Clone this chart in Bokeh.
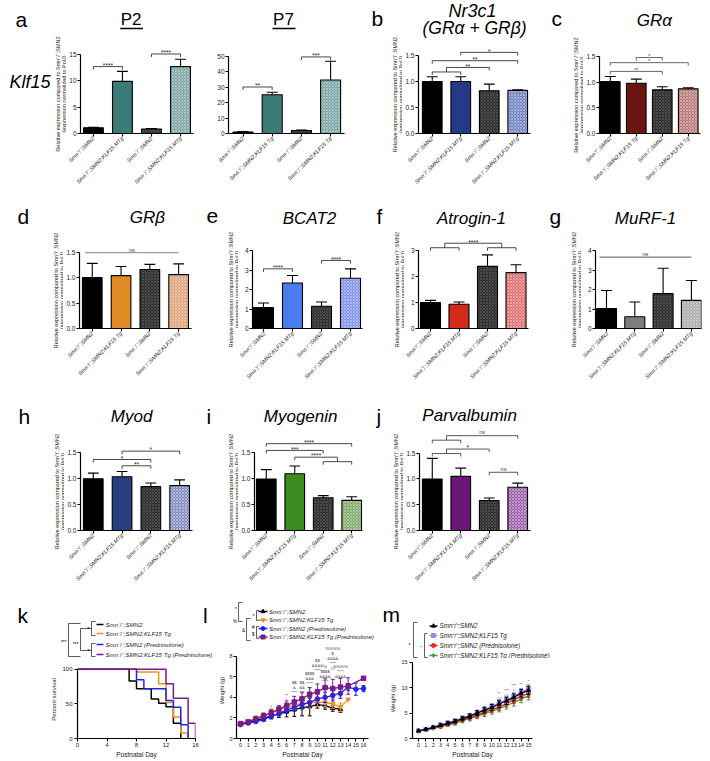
import math
from bokeh.plotting import figure
from bokeh.models import (Range1d, LinearAxis, FixedTicker, PrintfTickFormatter,
                          ColumnDataSource, Spacer)
from bokeh.layouts import row, column
from bokeh.embed import file_html
from bokeh.resources import INLINE
from bokeh.core.properties import value

FONT = "Liberation Sans"

# ---------------- data ----------------
bar_positions = [1, 2, 3, 4]
labels_mtg = ["Smn⁺/⁻;SMN2", "Smn⁺/⁻;SMN2;KLF15 MTg", "Smn⁻/⁻;SMN2", "Smn⁻/⁻;SMN2;KLF15 MTg"]
labels_tg = ["Smn⁺/⁻;SMN2", "Smn⁺/⁻;SMN2;KLF15 Tg", "Smn⁻/⁻;SMN2", "Smn⁻/⁻;SMN2;KLF15 Tg"]
ylabel_lines = ["Relative expression compared to Smn⁺/⁻;SMN2", "(expression normalized to PolJ)"]

klf15_p2_mean = [1.1, 9.9, 0.85, 12.7]
klf15_p2_sem = [0.1, 1.9, 0.1, 1.4]
klf15_p7_mean = [1.0, 25.0, 1.9, 34.5]
klf15_p7_sem = [0.3, 1.6, 0.3, 12.1]
nr3c1_mean = [1.0, 1.0, 0.82, 0.83]
nr3c1_sem = [0.09, 0.09, 0.13, 0.01]
gra_mean = [1.01, 0.98, 0.85, 0.87]
gra_sem = [0.10, 0.08, 0.06, 0.02]
grb_mean = [1.0, 1.04, 1.16, 1.06]
grb_sem = [0.28, 0.18, 0.10, 0.21]
bcat2_mean = [1.07, 2.33, 1.14, 2.58]
bcat2_sem = [0.24, 0.39, 0.22, 0.48]
atrogin_mean = [1.0, 0.93, 2.39, 2.15]
atrogin_sem = [0.08, 0.09, 0.44, 0.30]
murf_mean = [1.02, 0.60, 1.79, 1.44]
murf_sem = [0.93, 0.76, 1.30, 1.02]
myod_mean = [0.99, 1.03, 0.84, 0.86]
myod_sem = [0.11, 0.10, 0.07, 0.11]
myog_mean = [0.99, 1.09, 0.63, 0.58]
myog_sem = [0.18, 0.15, 0.04, 0.07]
parv_mean = [1.0, 1.05, 0.58, 0.84]
parv_sem = [0.40, 0.16, 0.05, 0.08]

# significance comparisons: (left bars, right bars, level, label)
klf15_p2_sig = [([1], [2], 12.7, "****"), ([3], [4], 15.1, "****")]
klf15_p7_sig = [([1], [2], 30.0, "**"), ([3], [4], 49.4, "***")]
nr3c1_sig = [([1, 2], [3], 1.27, "**"), ([1], [4], 1.40, "**"), ([2], [4], 1.56, "*")]
gra_sig = [([1], [3], 1.21, "**"), ([1], [4], 1.38, "*"), ([2], [3], 1.48, "*")]
grb_sig = [([1], [4], 1.49, "ns")]
bcat2_sig = [([1], [2], 3.06, "****"), ([3], [4], 3.49, "****")]
atrogin_sig = [([1, 2], [3, 4], 3.28, "****")]
murf_sig = [([1], [4], 3.66, "ns")]
myod_sig = [([2], [3], 1.24, "**"), ([1], [3], 1.36, "*"), ([2], [4], 1.52, "*")]
myog_sig = [([2], [3, 4], 1.41, "****"), ([1], [3], 1.54, "***"), ([1], [4], 1.67, "****")]
parv_sig = [([3], [4], 1.13, "ns"), ([1, 2], [3], 1.58, "*"), ([1, 2], [4], 1.84, "ns")]

klf15_colors = ["#000000", "#3c7c78", "#2a2a2a", "#76a3a0"]
nr3c1_colors = ["#000000", "#243a86", "#2a2a2a", "#6d7fbf"]
gra_colors = ["#000000", "#6b1510", "#2a2a2a", "#b87474"]
grb_colors = ["#000000", "#df8a22", "#2a2a2a", "#dea074"]
bcat2_colors = ["#000000", "#4a7cf0", "#2a2a2a", "#7d8ff0"]
atrogin_colors = ["#000000", "#d42a1c", "#2a2a2a", "#e06a6a"]
murf_colors = ["#000000", "#7d7d7d", "#2a2a2a", "#a9a9a9"]
myod_colors = ["#000000", "#2a3e82", "#2a2a2a", "#7e8bc2"]
myog_colors = ["#000000", "#3b8b1f", "#2a2a2a", "#7ba862"]
parv_colors = ["#000000", "#6b1579", "#2a2a2a", "#9a5aab"]

# survival (k)
surv_days_black = [0, 7, 8, 10, 11, 12, 13, 14]
surv_pct_black = [100, 83, 72, 57, 51, 46, 22, 0]
surv_days_orange = [0, 8, 11, 12, 13, 14, 15]
surv_pct_orange = [100, 96, 79, 52, 31, 8, 0]
surv_days_blue = [0, 8, 9, 12, 13, 14, 15]
surv_pct_blue = [100, 85, 72, 55, 45, 20, 0]
surv_days_purple = [0, 12, 13, 15, 16]
surv_pct_purple = [100, 79, 58, 22, 0]
ko_legend = ["Smn⁻/⁻;SMN2", "Smn⁻/⁻;SMN2;KLF15 Tg", "Smn⁻/⁻;SMN2 (Prednisolone)",
             "Smn⁻/⁻;SMN2;KLF15 Tg (Prednisolone)"]
het_legend = ["Smn⁺/⁻;SMN2", "Smn⁺/⁻;SMN2;KLF15 Tg", "Smn⁺/⁻;SMN2 (Prednisolone)",
              "Smn⁺/⁻;SMN2;KLF15 Tg (Prednisolone)"]
ko_colors = ["#000000", "#f0901e", "#2222f0", "#7a1a8c"]
het_colors = ["#000000", "#8c8cff", "#e02a20", "#3f9a30"]

# weight, Smn-/- (l)
wl_days_black = list(range(0, 14))
wl_black = [1.40, 1.55, 1.75, 1.95, 2.20, 2.40, 2.60, 2.80, 3.00, 3.10, 3.30, 3.20, 2.95, 2.85]
wl_black_err = [0.10, 0.15, 0.20, 0.25, 0.30, 0.35, 0.50, 0.65, 0.80, 0.90, 0.35, 0.35, 0.30, 0.30]
wl_days_orange = list(range(0, 15))
wl_orange = [1.50, 1.70, 1.95, 2.20, 2.50, 2.75, 3.05, 3.25, 3.40, 3.50, 3.55, 3.50, 3.35, 3.05, 3.80]
wl_orange_err = [0.10, 0.15, 0.25, 0.30, 0.35, 0.40, 0.40, 0.45, 0.50, 0.55, 0.45, 0.40, 0.45, 0.40, 0.05]
wl_days_blue = list(range(0, 17))
wl_blue = [1.35, 1.50, 1.65, 1.85, 2.15, 2.45, 2.75, 3.05, 3.30, 3.50, 3.85, 4.00, 4.20, 4.40, 5.00, 4.80, 4.85]
wl_blue_err = [0.08, 0.10, 0.12, 0.15, 0.20, 0.25, 0.30, 0.35, 0.40, 0.40, 0.45, 0.50, 0.55, 0.50, 0.35, 0.60, 0.30]
wl_days_purple = list(range(0, 15)) + [16]
wl_purple = [1.45, 1.60, 1.90, 2.20, 2.50, 2.85, 3.20, 3.55, 3.85, 4.30, 4.55, 4.95, 4.85, 5.00, 5.10, 5.85]
wl_purple_err = [0.10, 0.15, 0.20, 0.25, 0.30, 0.35, 0.45, 0.55, 0.60, 0.65, 0.75, 0.85, 0.90, 0.85, 0.80, 0.10]
wl_sig_days = [4, 6, 7, 8, 9, 10, 11, 12, 13]
wl_sig_top = [3.4, 4.45, 5.7, 5.7, 6.6, 7.8, 7.25, 9.0, 7.25]
wl_sig_text = ["#", "**\n*", "$$\n&\n****\n*", "$$\n&&\n***\n*", "$$$$\n&&&\n****\n#",
               "$$\n&&&&\n****", "%\n$$$$\n&&&&\n****", "%%%%\n$\n&&&&\n****\n##", "%%%%\n****\n&&&&"]

# weight, Smn+/- (m)
wm_days = list(range(0, 16))
wm_black = [1.5, 1.8, 2.2, 2.6, 3.0, 3.4, 3.9, 4.4, 5.0, 5.6, 6.1, 6.8, 7.4, 8.1, 8.9, 9.5]
wm_blue = [1.5, 1.8, 2.2, 2.7, 3.1, 3.5, 4.0, 4.5, 5.1, 5.7, 6.3, 7.0, 7.6, 8.3, 9.1, 9.8]
wm_red = [1.5, 1.7, 2.1, 2.4, 2.8, 3.2, 3.7, 4.1, 4.6, 5.2, 5.7, 6.2, 6.9, 7.6, 8.3, 8.9]
wm_green = [1.5, 1.7, 2.0, 2.3, 2.7, 3.0, 3.5, 3.9, 4.4, 4.9, 5.4, 5.9, 6.5, 7.1, 7.8, 8.4]
wm_err = [0.15, 0.2, 0.2, 0.25, 0.3, 0.35, 0.4, 0.45, 0.5, 0.55, 0.6, 0.65, 0.7, 0.7, 0.75, 0.8]
wm_sig_days = [11, 12, 13, 14, 15]
wm_sig_top = [9.3, 10.0, 11.0, 11.2, 11.7]
wm_sig_text = ["**\n##\n#", "***\n##", "***\n#", "**", "*"]


# ---------------- helpers ----------------
def make_fig(box, frame, xr, yr):
    fx0, fy0, fx1, fy1 = box
    l, t, r, b = frame
    p = figure(width=fx1 - fx0, height=fy1 - fy0, x_range=Range1d(*xr), y_range=Range1d(*yr),
               x_axis_type=None, y_axis_type=None, toolbar_location=None, output_backend="svg",
               min_border_left=l - fx0, min_border_right=fx1 - r, min_border_top=t - fy0,
               min_border_bottom=fy1 - b, title=None)
    try:
        p.frame_align = False
    except Exception:
        pass
    p.outline_line_color = None
    p.background_fill_color = "white"
    p.border_fill_color = "white"
    return p


def pixel_fig(box, frame=None):
    # annotation strip: x = page pixel, y = -(page pixel)
    frame = frame or box
    l, t, r, b = frame
    return make_fig(box, frame, (l, r), (-b, -t))


def txt(p, x, y, s, size, style="normal", align="left", color="black"):
    # y is the alphabetic baseline in page pixels; draw with a middle anchor
    p.text([x], [-(y - 0.35 * size)], [s], text_font=value(FONT), text_font_size=value(f"{size}px"),
           text_font_style=value(style), text_align=align, text_baseline="middle", text_color=color)


def ylab_strip(p, axis_x, yc):
    for dx, s in zip((-22, -16), ylabel_lines):
        p.text([axis_x + dx], [-yc], [s], angle=math.pi / 2, text_font=value(FONT),
               text_font_size=value("5.5px"), text_align="center", text_baseline="middle",
               text_color="#222222")


def seg(p, x0, y0, x1, y1, color="black", w=1.0):
    p.segment([x0], [-y0], [x1], [-y1], line_color=color, line_width=w)


def lbracket(p, x, ya, yb, tick, color="#333333"):
    p.segment([x, x, x], [-ya, -ya, -yb], [x, x + tick, x + tick], [-yb, -ya, -yb],
              line_color=color, line_width=0.8)


def style_axis(ax, size="6.5px"):
    ax.axis_line_width = 1.2
    ax.axis_line_color = "black"
    ax.major_tick_line_color = "black"
    ax.major_tick_line_width = 1.1
    ax.major_tick_in = 0
    ax.major_tick_out = 3
    ax.minor_tick_line_color = None
    ax.major_label_text_font = FONT
    ax.major_label_text_font_size = size
    ax.major_label_text_color = "#222222"
    ax.major_label_standoff = 2
    ax.axis_label_text_font = FONT
    ax.axis_label_text_font_size = "5.5px"
    ax.axis_label_text_font_style = "normal"
    ax.axis_label_text_color = "#222222"
    ax.axis_label_standoff = 2


def bar_panel(box, frame, c1, sp, ytop_val, ytop_px, yticks, yfmt, xlabels, means, sems,
              colors, sig, ticks=True, sig_color="#333333", star_size=6.5):
    l, t, r, b = frame
    ppu = (b - ytop_px) / ytop_val
    x0 = 1 - (c1 - l) / sp
    x1 = x0 + (r - l) / sp
    p = make_fig(box, frame, (x0, x1), (0, (b - t) / ppu))
    ya = LinearAxis(ticker=FixedTicker(ticks=yticks, minor_ticks=[]),
                    formatter=PrintfTickFormatter(format=yfmt), bounds=(0, yticks[-1]))
    style_axis(ya)
    ya.major_label_standoff = 1
    p.add_layout(ya, "left")
    xa = LinearAxis(ticker=FixedTicker(ticks=bar_positions, minor_ticks=[]),
                    major_label_overrides={k: v for k, v in zip(bar_positions, xlabels)},
                    major_label_orientation=math.pi / 4)
    style_axis(xa, "5.5px")
    xa.major_label_text_font_style = "italic"
    xa.major_label_standoff = 1
    p.add_layout(xa, "below")

    bw = 20.0 / sp
    src = ColumnDataSource(dict(x=bar_positions, top=means, color=colors,
                                hatch=[" ", " ", "x", "x"],
                                hcol=["#000000", "#000000", "#808080", "#f6f6f6"]))
    p.vbar(x="x", top="top", width=bw, source=src, fill_color="color", line_color="black",
           line_width=1.1, hatch_pattern="hatch", hatch_color="hcol", hatch_scale=3.0,
           hatch_weight=0.6, hatch_alpha=0.7)
    tops = [m + s for m, s in zip(means, sems)]
    p.segment(bar_positions, means, bar_positions, tops, line_color="black", line_width=1.1)
    cw = 5.5 / sp
    p.segment([x - cw for x in bar_positions], tops, [x + cw for x in bar_positions], tops,
              line_color="black", line_width=1.1)

    sx0, sy0, sx1, sy1, tx, ty, tt = [], [], [], [], [], [], []
    tk = 3.0 / ppu
    sub = 4.5 / ppu
    for left, right, y, label in sig:
        ends = []
        for side in (left, right):
            if len(side) == 1:
                xc = bar_positions[side[0] - 1]
                if ticks:
                    sx0.append(xc); sy0.append(y); sx1.append(xc); sy1.append(y - tk)
            else:
                xa_, xb_ = bar_positions[side[0] - 1], bar_positions[side[1] - 1]
                ys = y - sub
                sx0 += [xa_, xa_, xb_]; sy0 += [ys, ys, ys]
                sx1 += [xb_, xa_, xb_]; sy1 += [ys, ys - tk, ys - tk]
                xc = (xa_ + xb_) / 2
                sx0.append(xc); sy0.append(ys); sx1.append(xc); sy1.append(y)
            ends.append(xc)
        if not ticks:
            ends = [bar_positions[left[0] - 1] - 0.25, bar_positions[right[-1] - 1]]
        sx0.append(ends[0]); sy0.append(y); sx1.append(ends[1]); sy1.append(y)
        tx.append((ends[0] + ends[1]) / 2); ty.append(y); tt.append(label)
    p.segment(sx0, sy0, sx1, sy1, line_color=sig_color, line_width=0.9)
    stars = [i for i, s in enumerate(tt) if "*" in s]
    others = [i for i, s in enumerate(tt) if "*" not in s]
    if stars:
        p.text([tx[i] for i in stars], [ty[i] for i in stars], [tt[i] for i in stars],
               text_font=value(FONT), text_font_size=value(f"{star_size}px"),
               text_align="center", text_baseline="middle", y_offset=-1.2, text_color="#222222")
    if others:
        p.text([tx[i] for i in others], [ty[i] for i in others], [tt[i] for i in others],
               text_font=value(FONT), text_font_size=value("5.5px"),
               text_align="center", text_baseline="middle", y_offset=-3.2, text_color="#444444")
    return p, (l, b, x0, sp, ppu)


def ptxt(p, geo, px, py, s, size, style="italic", align="center", color="black"):
    l, b, x0, sp, ppu = geo
    p.text([x0 + (px - l) / sp], [(b - (py - 0.35 * size)) / ppu], [s], text_font=value(FONT),
           text_font_size=value(f"{size}px"), text_font_style=value(style), text_align=align,
           text_baseline="middle", text_color=color)


def pseg(p, geo, px0, py0, px1, py1, w=1.4):
    l, b, x0, sp, ppu = geo
    p.segment([x0 + (px0 - l) / sp], [(b - py0) / ppu], [x0 + (px1 - l) / sp], [(b - py1) / ppu],
              line_color="black", line_width=w)


# ---------------- row 1 (y 0..199) ----------------
s1a = pixel_fig((0, 0, 66, 199))
txt(s1a, 15, 26, "a", 21)
txt(s1a, 9, 88, "Klf15", 18, "italic")
ylab_strip(s1a, 79, 93.5)

p_p2, g = bar_panel((66, 0, 214, 199), (79, 0, 193, 133), 92, 29.3, 15, 54, [0, 5, 10, 15], "%d",
                    labels_mtg, klf15_p2_mean, klf15_p2_sem, klf15_colors, klf15_p2_sig)
ptxt(p_p2, g, 130, 25, "P2", 17, "normal")
pseg(p_p2, g, 119, 28, 142, 28)

p_p7, g = bar_panel((214, 0, 360, 199), (228, 0, 344, 133), 242.5, 29.2, 50, 55.5,
                    [0, 10, 20, 30, 40, 50], "%d", labels_tg, klf15_p7_mean, klf15_p7_sem,
                    klf15_colors, klf15_p7_sig)
ptxt(p_p7, g, 283, 25, "P7", 17, "normal")
pseg(p_p7, g, 272, 28, 295, 28)

s1b = pixel_fig((360, 0, 402, 199))
txt(s1b, 371, 25, "b", 21)
ylab_strip(s1b, 416, 94)
p_b, g = bar_panel((402, 0, 545, 199), (416, 0, 530, 133), 430, 29, 1.5, 55, [0, 0.5, 1.0, 1.5], "%.1f",
                   labels_mtg, nr3c1_mean, nr3c1_sem, nr3c1_colors, nr3c1_sig)
ptxt(p_b, g, 471, 17, "Nr3c1", 18)
ptxt(p_b, g, 473, 34, "(GRα + GRβ)", 17.5)

s1c = pixel_fig((545, 0, 583, 199))
txt(s1c, 551, 25, "c", 21)
ylab_strip(s1c, 597, 94.5)
p_c, g = bar_panel((583, 0, 710, 199), (597, 0, 700, 133), 608, 26.5, 1.5, 56, [0, 0.5, 1.0, 1.5], "%.1f",
                   labels_tg, gra_mean, gra_sem, gra_colors, gra_sig, sig_color="#555555",
                   star_size=5)
ptxt(p_c, g, 653, 26, "GRα", 17)

# ---------------- row 2 (y 199..398) ----------------
s2d = pixel_fig((0, 199, 63, 398))
txt(s2d, 17, 223, "d", 21)
ylab_strip(s2d, 77, 290)
p_d, g = bar_panel((63, 199, 205, 398), (77, 199, 191, 328), 90, 29.3, 1.5, 251.7, [0, 0.5, 1.0, 1.5], "%.1f",
                   labels_tg, grb_mean, grb_sem, grb_colors, grb_sig, ticks=False, sig_color="#777777")
ptxt(p_d, g, 146, 223, "GRβ", 17)

s2e = pixel_fig((205, 199, 238, 398))
txt(s2e, 206, 223, "e", 21)
ylab_strip(s2e, 252, 289)
p_e, g = bar_panel((238, 199, 370, 398), (252, 199, 362, 328), 263, 29, 4, 250, [0, 1, 2, 3, 4], "%d",
                   labels_mtg, bcat2_mean, bcat2_sem, bcat2_colors, bcat2_sig)
ptxt(p_e, g, 309, 224, "BCAT2", 17)

s2f = pixel_fig((370, 199, 404, 398))
txt(s2f, 376, 223, "f", 21)
ylab_strip(s2f, 418, 289)
p_f, g = bar_panel((404, 199, 548, 398), (418, 199, 528, 328), 430, 28.5, 3, 250, [0, 1, 2, 3], "%d",
                   labels_mtg, atrogin_mean, atrogin_sem, atrogin_colors, atrogin_sig)
ptxt(p_f, g, 471, 224, "Atrogin-1", 17)

s2g = pixel_fig((548, 199, 581, 398))
txt(s2g, 549, 223, "g", 21)
ylab_strip(s2g, 595, 289)
p_g, g = bar_panel((581, 199, 710, 398), (595, 199, 701, 328), 606, 28.3, 4, 250, [0, 1, 2, 3, 4], "%d",
                   labels_mtg, murf_mean, murf_sem, murf_colors, murf_sig, ticks=False,
                   sig_color="#444444")
ptxt(p_g, g, 645, 224, "MuRF-1", 17)

# ---------------- row 3 (y 398..594) ----------------
s3h = pixel_fig((0, 398, 64, 594))
txt(s3h, 18, 423, "h", 21)
ylab_strip(s3h, 78, 491)
p_h, g = bar_panel((64, 398, 205, 594), (78, 398, 192, 530), 91, 29.3, 1.5, 451.7, [0, 0.5, 1.0, 1.5], "%.1f",
                   labels_mtg, myod_mean, myod_sem, myod_colors, myod_sig)
ptxt(p_h, g, 130, 422, "Myod", 17)

s3i = pixel_fig((205, 398, 238, 594))
txt(s3i, 206, 423, "i", 21)
ylab_strip(s3i, 252, 491)
p_i, g = bar_panel((238, 398, 370, 594), (252, 398, 362, 530), 264, 29, 1.5, 452, [0, 0.5, 1.0, 1.5], "%.1f",
                   labels_mtg, myog_mean, myog_sem, myog_colors, myog_sig)
ptxt(p_i, g, 299, 422, "Myogenin", 17)

s3j = pixel_fig((370, 398, 403, 594))
txt(s3j, 376, 423, "j", 21)
ylab_strip(s3j, 417, 491)
p_j, g = bar_panel((403, 398, 548, 594), (417, 398, 530, 530), 430, 29, 1.5, 452.7, [0, 0.5, 1.0, 1.5], "%.1f",
                   labels_mtg, parv_mean, parv_sem, parv_colors, parv_sig, sig_color="#444444")
ptxt(p_j, g, 468, 421, "Parvalbumin", 17)

# ---------------- row 4: k survival ----------------
K_W = 216
k_leg = pixel_fig((0, 594, K_W, 660))
txt(k_leg, 17, 622, "k", 21)
txt(k_leg, 202.5, 622, "l", 21)
k_leg_y = [624, 633, 644, 654]
for yy, s, c in zip(k_leg_y, ko_legend, ko_colors):
    seg(k_leg, 96, yy, 103, yy, c, 1.4)
    txt(k_leg, 105, yy + 2.2, s, 6.1, "italic", color="#222222")
lbracket(k_leg, 91, 621, 635, 4)
lbracket(k_leg, 91, 643, 656, 4)
lbracket(k_leg, 80, 628, 650, 11)
lbracket(k_leg, 68, 623, 656, 12)
txt(k_leg, 89, 631, "*", 6, align="right")
txt(k_leg, 89, 653, "*", 6, align="right")
txt(k_leg, 78, 645, "***", 5, align="right")
txt(k_leg, 66, 643, "***", 5, align="right")

KB = 740
k_ppu = (KB - 669) / 100.0
p_k = make_fig((0, 660, K_W, 760), (77, 660, 195, KB), (0, 16), (0, (KB - 660) / k_ppu))
ky = LinearAxis(ticker=FixedTicker(ticks=[0, 50, 100], minor_ticks=[]),
                formatter=PrintfTickFormatter(format="%d"), bounds=(0, 100), axis_label="Percent survival")
style_axis(ky, "6px")
ky.axis_label_text_font_size = "6px"
p_k.add_layout(ky, "left")
kx = LinearAxis(ticker=FixedTicker(ticks=[0, 4, 8, 12, 16], minor_ticks=[]),
                formatter=PrintfTickFormatter(format="%d"), axis_label="Postnatal Day")
style_axis(kx, "6px")
kx.axis_label_text_font_size = "6.5px"
kx.major_label_standoff = 1
kx.axis_label_standoff = 1
p_k.add_layout(kx, "below")
for d, s, c in [(surv_days_black, surv_pct_black, ko_colors[0]),
                (surv_days_orange, surv_pct_orange, ko_colors[1]),
                (surv_days_blue, surv_pct_blue, ko_colors[2]),
                (surv_days_purple, surv_pct_purple, ko_colors[3])]:
    p_k.step(d, s, mode="after", line_color=c, line_width=1.5)

# ---------------- row 4: l weight (Smn-/-) ----------------
l_series = [(wl_days_black, wl_black, wl_black_err, ko_colors[0], "triangle"),
            (wl_days_orange, wl_orange, wl_orange_err, ko_colors[1], "inverted_triangle"),
            (wl_days_blue, wl_blue, wl_blue_err, ko_colors[2], "circle"),
            (wl_days_purple, wl_purple, wl_purple_err, ko_colors[3], "square")]

l_leg = pixel_fig((K_W, 594, 375, 642))
l_leg_y = [611, 619.5, 628, 636.5]
for yy, s, c, ser in zip(l_leg_y, ko_legend, ko_colors, l_series):
    seg(l_leg, 258, yy, 267, yy, c, 1.3)
    l_leg.scatter([262.5], [-yy], marker=ser[4], size=4, fill_color=c, line_color=c)
    txt(l_leg, 268.5, yy + 2.2, s, 6.0, "italic", color="#222222")
lbracket(l_leg, 256, 610, 620, 2.5)
lbracket(l_leg, 256, 626, 638, 2.5)
lbracket(l_leg, 246, 618, 640, 4)
lbracket(l_leg, 238, 602, 621, 4)
txt(l_leg, 254, 617, "*", 5, align="right")
txt(l_leg, 254, 629, "#", 4.5, align="right")
txt(l_leg, 254, 636, "$", 4.5, align="right")
txt(l_leg, 244.5, 632, "&", 4.5, align="right")
txt(l_leg, 236.5, 610, "*", 5, align="right")
txt(l_leg, 236.5, 623, "%", 4.5, align="right")

l_ppx = 7.75
l_ppu = (KB - 656) / 8.0
lx0 = -(239 - 235) / l_ppx
p_l = make_fig((K_W, 642, 375, 760), (235, 642, 368, KB), (lx0, lx0 + (368 - 235) / l_ppx),
               (0, (KB - 642) / l_ppu))
ly = LinearAxis(ticker=FixedTicker(ticks=[0, 2, 4, 6, 8], minor_ticks=[]),
                formatter=PrintfTickFormatter(format="%d"), bounds=(0, 8), axis_label="Weight (g)")
style_axis(ly, "5.5px")
ly.axis_label_text_font_size = "6px"
ly.major_label_standoff = 1
ly.axis_label_standoff = 1
p_l.add_layout(ly, "left")
lxa = LinearAxis(ticker=FixedTicker(ticks=list(range(0, 17)), minor_ticks=[]),
                 formatter=PrintfTickFormatter(format="%d"), axis_label="Postnatal Day")
style_axis(lxa, "5.5px")
lxa.axis_label_text_font_size = "6.5px"
lxa.major_label_standoff = 1
lxa.axis_label_standoff = 1
p_l.add_layout(lxa, "below")
for d, m, e, c, mk in l_series:
    lo = [a - b for a, b in zip(m, e)]
    hi = [a + b for a, b in zip(m, e)]
    p_l.segment(d, lo, d, hi, line_color=c, line_width=1.0)
    p_l.segment([x - 0.25 for x in d], lo, [x + 0.25 for x in d], lo, line_color=c, line_width=1.0)
    p_l.segment([x - 0.25 for x in d], hi, [x + 0.25 for x in d], hi, line_color=c, line_width=1.0)
    p_l.line(d, m, line_color=c, line_width=1.3)
    p_l.scatter(d, m, marker=mk, size=4.5, fill_color=c, line_color=c)
p_l.text(wl_sig_days, wl_sig_top, wl_sig_text, text_font=value(FONT), text_font_size=value("4.2px"),
         text_align="center", text_baseline="top", text_line_height=1.0, text_color="#333333")

# ---------------- row 4: m weight (Smn+/-) ----------------
m_leg = pixel_fig((375, 594, 710, 658))
txt(m_leg, 382, 621, "m", 21)
m_leg_y = [625.5, 635, 645, 655]
m_leg_markers = ["triangle", "square", "circle", "diamond"]
for yy, s, c, mk in zip(m_leg_y, het_legend, het_colors, m_leg_markers):
    seg(m_leg, 429, yy, 437, yy, c, 1.3)
    m_leg.scatter([433], [-yy], marker=mk, size=4, fill_color=c, line_color=c)
    txt(m_leg, 439, yy + 2.2, s, 6.3, "italic", color="#222222")
lbracket(m_leg, 413, 622, 657, 4)
lbracket(m_leg, 424, 633, 657, 3)
txt(m_leg, 410, 646, "*", 5, align="right")
txt(m_leg, 421.5, 648, "*", 4, align="right")

m_ppx = 7.33
m_ppu = (KB - 662) / 15.0
mx0 = -(418 - 412) / m_ppx
p_m = make_fig((375, 658, 710, 760), (412, 658, 532, KB), (mx0, mx0 + (532 - 412) / m_ppx),
               (0, (KB - 658) / m_ppu))
my = LinearAxis(ticker=FixedTicker(ticks=[0, 5, 10, 15], minor_ticks=[]),
                formatter=PrintfTickFormatter(format="%d"), bounds=(0, 15), axis_label="Weight (g)")
style_axis(my, "5.5px")
my.axis_label_text_font_size = "6px"
p_m.add_layout(my, "left")
mxa = LinearAxis(ticker=FixedTicker(ticks=list(range(0, 16)), minor_ticks=[]),
                 formatter=PrintfTickFormatter(format="%d"), axis_label="Postnatal Day")
style_axis(mxa, "5.5px")
mxa.axis_label_text_font_size = "6.5px"
mxa.major_label_standoff = 1
mxa.axis_label_standoff = 1
p_m.add_layout(mxa, "below")
m_series = [(wm_green, het_colors[3], "diamond"), (wm_red, het_colors[2], "circle"),
            (wm_blue, het_colors[1], "square"), (wm_black, het_colors[0], "triangle")]
for m, c, mk in m_series:
    lo = [a - b for a, b in zip(m, wm_err)]
    hi = [a + b for a, b in zip(m, wm_err)]
    p_m.segment(wm_days, lo, wm_days, hi, line_color=c, line_width=1.0)
    p_m.segment([x - 0.25 for x in wm_days], lo, [x + 0.25 for x in wm_days], lo, line_color=c, line_width=1.0)
    p_m.segment([x - 0.25 for x in wm_days], hi, [x + 0.25 for x in wm_days], hi, line_color=c, line_width=1.0)
    p_m.line(wm_days, m, line_color=c, line_width=1.3)
    p_m.scatter(wm_days, m, marker=mk, size=4, fill_color=c, line_color=c)
p_m.text(wm_sig_days, wm_sig_top, wm_sig_text, text_font=value(FONT), text_font_size=value("4.2px"),
         text_align="center", text_baseline="top", text_line_height=1.0, text_color="#333333")

layout = column(
    row(s1a, p_p2, p_p7, s1b, p_b, s1c, p_c),
    row(s2d, p_d, s2e, p_e, s2f, p_f, s2g, p_g),
    row(s3h, p_h, s3i, p_i, s3j, p_j, Spacer(width=162, height=196)),
    row(column(k_leg, p_k), column(l_leg, p_l), column(m_leg, p_m)),
)

open("out.html", "w").write(file_html(layout, INLINE, title="Klf15 figure"))
